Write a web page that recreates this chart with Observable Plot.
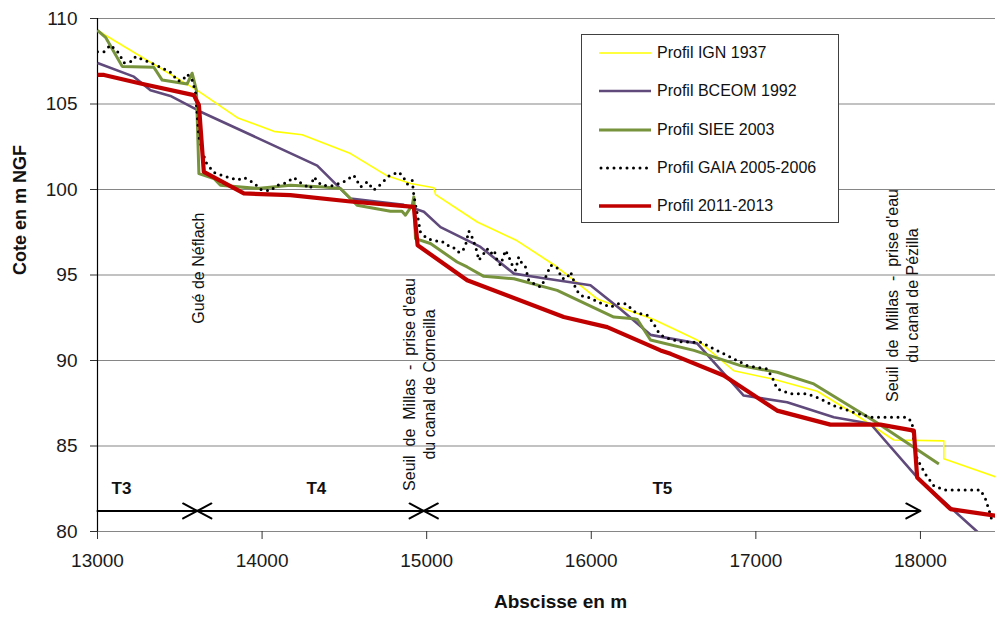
<!DOCTYPE html>
<html>
<head>
<meta charset="utf-8">
<script src="https://cdn.jsdelivr.net/npm/d3@7"></script>
<script src="https://cdn.jsdelivr.net/npm/@observablehq/plot@0.6"></script>
<style>
  html, body { margin: 0; padding: 0; background: #fff; }
  #wrap { position: relative; width: 995px; height: 623px; font-family: "Liberation Sans", Arial, sans-serif; }
  #legend { position: absolute; left: 581px; top: 34px; width: 258px; height: 189px; box-sizing: border-box;
            border: 1px solid #404040; background: #fff; }
  .item { position: absolute; left: 17px; height: 20px; display: flex; align-items: center; font-size: 16px; color: #111; }
  .item svg { margin-right: 6px; }
</style>
</head>
<body>
<div id="wrap"></div>
<script>
// ---- Data ----
const xTicks = [13000, 14000, 15000, 16000, 17000, 18000];
const yTicks = [80, 85, 90, 95, 100, 105, 110];

const seriesNames = ["Profil IGN 1937", "Profil BCEOM 1992", "Profil SIEE 2003", "Profil GAIA 2005-2006", "Profil 2011-2013"];

const ignX = [13000, 13606, 13849, 14071, 14243, 14537, 14760, 14902, 15044, 15054, 15307, 15550, 15772, 15894, 16036, 16178, 16380, 16643, 16866, 17109, 17373, 17595, 17838, 18142, 18142, 18456];
const ignY = [109.3, 105.8, 104.2, 103.4, 103.2, 102.1, 100.8, 100.35, 100.1, 99.7, 98.1, 97.0, 95.6, 94.7, 93.6, 93.1, 92.4, 91.2, 89.4, 88.9, 88.2, 86.9, 85.35, 85.3, 84.25, 83.2];

const bceomX = [13000, 13221, 13322, 13443, 13626, 14335, 14537, 14861, 14983, 15084, 15327, 15530, 15651, 15995, 16178, 16360, 16643, 16926, 17190, 17474, 17696, 17980, 18344, 18456];
const bceomY = [107.4, 106.6, 105.8, 105.47, 104.55, 101.4, 99.47, 99.1, 98.7, 97.8, 96.64, 95.08, 94.9, 94.4, 93.0, 91.5, 91.0, 87.95, 87.56, 86.68, 86.3, 83.16, 80.0, 79.0];

const sieeX = [13000, 13049, 13150, 13342, 13393, 13545, 13575, 13601, 13616, 13707, 13747, 13970, 14172, 14375, 14476, 14577, 14678, 14780, 14850, 14871, 14912, 14922, 14932, 15023, 15185, 15246, 15347, 15530, 15793, 16137, 16258, 16280, 16360, 16623, 16907, 17130, 17352, 17717, 18112];
const sieeY = [109.3, 108.9, 107.2, 107.15, 106.4, 106.17, 106.8, 105.8, 100.93, 100.64, 100.25, 100.06, 100.25, 100.15, 100.06, 99.08, 98.9, 98.73, 98.73, 98.5, 99.08, 99.57, 97.13, 96.84, 95.76, 95.47, 94.92, 94.78, 94.1, 92.54, 92.44, 92.4, 91.2, 90.59, 89.7, 89.31, 88.63, 86.48, 83.95];

const gaiaX = [13000, 13040, 13079, 13130, 13160, 13211, 13231, 13332, 13383, 13454, 13484, 13515, 13545, 13575, 13595, 13616, 13656, 13707, 13767, 13849, 13890, 13950, 13990, 14051, 14091, 14150, 14192, 14240, 14294, 14314, 14360, 14420, 14496, 14557, 14598, 14640, 14678, 14720, 14770, 14831, 14860, 14882, 14912, 14922, 14962, 15002, 15053, 15090, 15124, 15160, 15185, 15215, 15236, 15256, 15280, 15306, 15316, 15340, 15367, 15390, 15410, 15428, 15448, 15479, 15500, 15520, 15540, 15559, 15580, 15600, 15620, 15650, 15692, 15710, 15732, 15753, 15790, 15823, 15850, 15874, 15890, 15904, 15935, 15980, 16026, 16070, 16117, 16160, 16210, 16270, 16300, 16340, 16380, 16400, 16440, 16500, 16542, 16603, 16664, 16745, 16866, 16947, 17069, 17099, 17129, 17210, 17311, 17392, 17473, 17595, 17696, 17919, 17949, 17960, 17980, 18030, 18081, 18142, 18365, 18395, 18415, 18435];
const gaiaY = [108.06, 108.06, 108.45, 107.97, 107.4, 107.5, 107.77, 107.38, 107.15, 106.8, 106.36, 106.36, 106.75, 106.4, 105.7, 103.08, 101.62, 100.99, 100.8, 100.55, 100.7, 100.39, 100.0, 99.92, 100.25, 100.4, 100.7, 100.35, 100.06, 100.74, 100.25, 100.2, 100.45, 100.84, 100.15, 100.45, 99.96, 100.3, 100.78, 101.03, 100.7, 100.31, 100.55, 99.67, 97.52, 97.13, 96.99, 96.99, 96.74, 96.64, 96.35, 96.35, 96.74, 97.57, 97.13, 96.35, 95.86, 96.15, 96.54, 96.25, 96.45, 95.86, 95.57, 96.45, 96.05, 95.57, 95.28, 96.05, 95.66, 95.47, 94.69, 94.5, 94.3, 94.6, 95.08, 95.57, 95.47, 94.79, 94.79, 95.18, 94.79, 94.2, 93.8, 93.7, 93.5, 93.3, 93.12, 93.32, 93.32, 92.8, 92.73, 92.64, 92.15, 91.76, 91.37, 91.2, 91.1, 91.07, 91.07, 90.68, 90.1, 89.7, 89.51, 89.02, 88.34, 88.05, 88.05, 87.76, 87.36, 86.97, 86.68, 86.68, 86.39, 85.3, 84.24, 83.36, 82.68, 82.43, 82.43, 81.9, 81.31, 80.63];

const recentX = [13000, 13040, 13261, 13585, 13616, 13646, 13889, 14172, 14537, 14922, 14945, 15246, 15833, 16097, 16421, 16482, 16805, 17129, 17453, 17757, 17960, 17980, 18182, 18456];
const recentY = [106.7, 106.7, 106.2, 105.52, 104.94, 101.03, 99.77, 99.67, 99.3, 98.98, 96.74, 94.69, 92.54, 91.95, 90.59, 90.39, 89.12, 87.07, 86.25, 86.25, 85.9, 83.16, 81.31, 80.92];

// Tronçons
const tronconNames = ["T3", "T4", "T5"];
const tronconStart = [13000, 13606, 14982];
const tronconEnd = [13606, 14982, 18000];
const tronconLabelX = [13146, 14330, 16432];
const tronconDoubleHead = [false, true, true];
const tronconArrowY = 81.2;
const tronconLabelY = 82.5;

// Annotations
const NB = "\u00a0";
const annText = [
  "Gué de Néflach",
  `Seuil${NB}${NB}de${NB}${NB}Millas${NB}${NB}-${NB}${NB}prise d'eau\ndu canal de Corneilla`,
  `Seuil${NB}${NB}de${NB}${NB}Millas${NB}${NB}-${NB}${NB}prise d'eau\ndu canal de Pézilla`
];
const annX = [13606, 14950, 17885];
const annY = [95.4, 88.6, 93.8];

// ---- Styles ----
const colors = ["#ffff00", "#604a7b", "#77933c", "#000000", "#c00000"];
const widths = [1.6, 2.6, 3, 3, 4.2];

const toRows = (xs, ys) => xs.map((x, i) => ({x, y: ys[i]}));
const seriesData = [toRows(ignX, ignY), toRows(bceomX, bceomY), toRows(sieeX, sieeY), toRows(gaiaX, gaiaY), toRows(recentX, recentY)];

const arrows = [];
tronconNames.forEach((n, i) => {
  const a = tronconStart[i], b = tronconEnd[i];
  if (tronconDoubleHead[i]) {
    const m = (a + b) / 2;
    arrows.push({x1: m, x2: a}, {x1: m, x2: b});
  } else {
    arrows.push({x1: a, x2: b});
  }
});

const lineMarks = seriesData.map((d, i) => Plot.line(d, {
  x: "x", y: "y", stroke: colors[i], strokeWidth: widths[i], clip: true,
  strokeLinejoin: "round",
  strokeLinecap: i === 3 ? "round" : "butt",
  strokeDasharray: i === 3 ? "0,6.5" : null
}));

const chart = Plot.plot({
  width: 995, height: 623,
  marginLeft: 97, marginRight: 0, marginTop: 18, marginBottom: 92,
  x: {domain: [13000, 18456]},
  y: {domain: [80, 110]},
  style: {fontFamily: "'Liberation Sans', Arial, sans-serif", background: "#fff", color: "#1a1a1a"},
  marks: [
    Plot.ruleY(yTicks, {stroke: "#868686", strokeWidth: 1.2}),
    Plot.ruleX([13000], {stroke: "#000", strokeWidth: 1.2}),
    Plot.axisY({ticks: yTicks, tickSize: 7, tickPadding: 13, fontSize: 19, label: null, stroke: "#333"}),
    Plot.axisX({ticks: xTicks, tickSize: 8, tickPadding: 14, fontSize: 19, label: null, stroke: "#333", tickFormat: d => String(d)}),
    ...lineMarks,
    Plot.arrow(arrows, {x1: "x1", x2: "x2", y1: () => tronconArrowY, y2: () => tronconArrowY,
      stroke: "#000", strokeWidth: 2, headLength: 12, headAngle: 56}),
    Plot.text(tronconNames, {x: (d, i) => tronconLabelX[i], y: () => tronconLabelY, text: d => d,
      fontWeight: "bold", fontSize: 17, fill: "#111"}),
    Plot.text(annText, {x: (d, i) => annX[i], y: (d, i) => annY[i], text: d => d, rotate: -90,
      fontSize: 16, lineHeight: 1.25, fill: "#111"}),
    Plot.text(["Cote en m NGF"], {frameAnchor: "left", dx: -77, rotate: -90, fontWeight: "bold", fontSize: 18, fill: "#111"}),
    Plot.text(["Abscisse en m"], {frameAnchor: "bottom", dx: 14, dy: 76, fontWeight: "bold", fontSize: 19, fill: "#111"})
  ]
});

const wrap = document.getElementById("wrap");
wrap.appendChild(chart);

// Legend
const legend = document.createElement("div");
legend.id = "legend";
seriesNames.forEach((name, i) => {
  const item = document.createElement("div");
  item.className = "item";
  item.style.top = (8 + i * 38.3) + "px";
  const dash = i === 3 ? 'stroke-dasharray="0,6.5" stroke-linecap="round"' : '';
  item.innerHTML = `<svg width="52" height="10"><line x1="${i === 3 ? 2 : 0}" y1="5" x2="52" y2="5" stroke="${colors[i]}" stroke-width="${Math.min(widths[i], 3.5)}" ${dash}/></svg><span>${name}</span>`;
  legend.appendChild(item);
});
wrap.appendChild(legend);
</script>
</body>
</html>
